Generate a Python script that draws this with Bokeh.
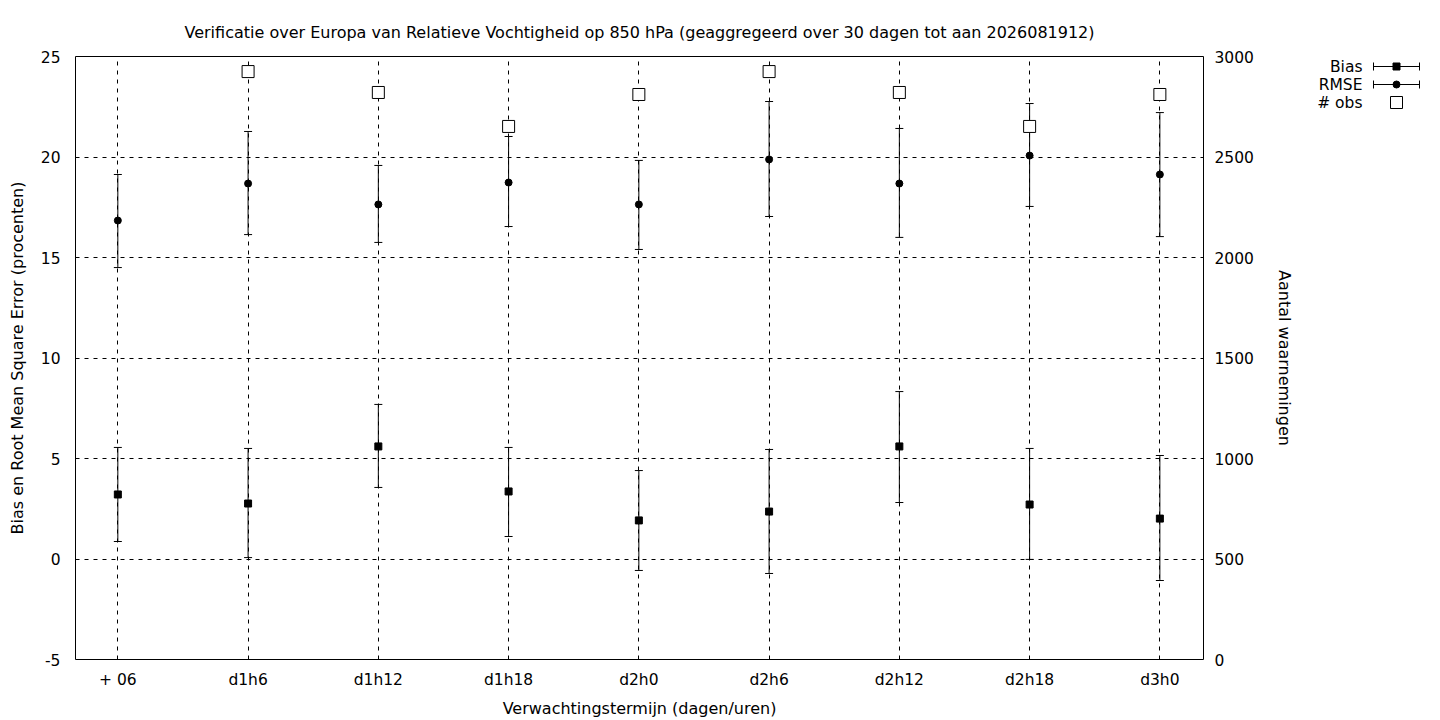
from bokeh.plotting import figure
from bokeh.layouts import row
from bokeh.models import (ColumnDataSource, Range1d, LinearAxis, FixedTicker, Whisker, TeeHead)
from bokeh.core.properties import value
from bokeh.embed import file_html
from bokeh.resources import INLINE
import numpy as np

# ---- data ----
categories = ["+ 06", "d1h6", "d1h12", "d1h18", "d2h0", "d2h6", "d2h12", "d2h18", "d3h0"]
bias = [3.21, 2.76, 5.60, 3.36, 1.92, 2.36, 5.60, 2.71, 2.01]
bias_lo = [0.87, 0.07, 3.56, 1.12, -0.57, -0.72, 2.81, -0.02, -1.07]
bias_hi = [5.55, 5.50, 7.69, 5.55, 4.40, 5.45, 8.33, 5.50, 5.15]
rmse = [16.84, 18.68, 17.64, 18.73, 17.64, 19.88, 18.68, 20.07, 19.13]
rmse_lo = [14.50, 16.14, 15.75, 16.54, 15.40, 17.04, 16.00, 17.54, 16.04]
rmse_hi = [19.13, 21.27, 19.58, 21.02, 19.83, 22.76, 21.42, 22.66, 22.21]
nobs = [np.nan, 2925, 2821, 2652, 2811, 2925, 2821, 2652, 2811]
left_ticks = [-5, 0, 5, 10, 15, 20, 25]
right_ticks = [0, 500, 1000, 1500, 2000, 2500, 3000]
legend_labels = ["Bias", "RMSE", "# obs"]

FONT = "DejaVu Sans"
FS = "15.5px"
FS_BIG = "16px"

xs = list(range(len(categories)))
src_b = ColumnDataSource(dict(x=xs, y=bias, lo=bias_lo, hi=bias_hi))
src_r = ColumnDataSource(dict(x=xs, y=rmse, lo=rmse_lo, hi=rmse_hi))
src_o = ColumnDataSource(dict(x=xs, y=nobs))

p = figure(width=1300, height=720, output_backend="svg", toolbar_location=None,
           x_range=Range1d(-0.325, 8.335), y_range=Range1d(-5, 25),
           min_border_left=75, min_border_right=97, min_border_top=56, min_border_bottom=61)
p.extra_y_ranges = {"obs": Range1d(0, 3000)}

p.title.text = "Verificatie over Europa van Relatieve Vochtigheid op 850 hPa (geaggregeerd over 30 dagen tot aan 2026081912)"
p.title.align = "center"
p.title.text_font = FONT
p.title.text_font_size = FS_BIG
p.title.text_font_style = "normal"
p.title.text_color = "black"
p.title.standoff = 30

p.outline_line_color = "black"
p.outline_line_width = 1
p.background_fill_color = "white"
p.border_fill_color = "white"

# axes
p.xaxis.ticker = FixedTicker(ticks=xs)
p.xaxis.major_label_overrides = {i: c for i, c in enumerate(categories)}
p.xaxis.axis_label = "Verwachtingstermijn (dagen/uren)"
p.yaxis.ticker = FixedTicker(ticks=left_ticks)
p.yaxis.major_label_overrides = {t: str(t) for t in left_ticks}
p.yaxis.axis_label = "Bias en Root Mean Square Error (procenten)"

ax_r = LinearAxis(y_range_name="obs", ticker=FixedTicker(ticks=right_ticks),
                  axis_label="Aantal waarnemingen")
p.add_layout(ax_r, "right")

for ax in [p.xaxis[0], p.yaxis[0], ax_r]:
    ax.axis_line_color = None
    ax.major_tick_line_color = None
    ax.minor_tick_line_color = None
    ax.major_label_text_font = FONT
    ax.major_label_text_font_size = FS
    ax.major_label_text_color = "black"
    ax.axis_label_text_font = FONT
    ax.axis_label_text_font_size = FS_BIG
    ax.axis_label_text_font_style = "normal"
    ax.axis_label_text_color = "black"

p.xaxis.major_label_standoff = 5
p.xaxis.axis_label_standoff = 7
p.yaxis[0].major_label_standoff = 9
p.yaxis[0].axis_label_standoff = 11
ax_r.major_label_standoff = 5
ax_r.axis_label_standoff = 18

# grid
p.xgrid.ticker = FixedTicker(ticks=xs)
p.ygrid.ticker = FixedTicker(ticks=left_ticks)
for g in [p.xgrid[0], p.ygrid[0]]:
    g.grid_line_color = "black"
    g.grid_line_dash = "4 5"
    g.grid_line_width = 1
    g.grid_line_alpha = 1.0

# error bars
for src in [src_b, src_r]:
    w = Whisker(source=src, base="x", lower="lo", upper="hi", dimension="height",
                line_color="black", line_width=1,
                lower_head=TeeHead(size=8, line_color="black", line_width=1),
                upper_head=TeeHead(size=8, line_color="black", line_width=1))
    p.add_layout(w)

p.scatter("x", "y", source=src_b, marker="square", size=7, color="black")
p.scatter("x", "y", source=src_r, marker="circle", size=7, color="black")
p.scatter("x", "y", source=src_o, y_range_name="obs", marker="square", size=12,
          fill_color="white", line_color="black", line_width=1)

# ---- key (gnuplot style: text right-aligned, sample to the right) ----
# frame of this figure spans page pixels x 1300..1440, y 56..659 (same borders as main plot)
leg = figure(width=140, height=720, output_backend="svg", toolbar_location=None,
             x_range=Range1d(1300, 1440), y_range=Range1d(659, 56),
             min_border_left=0, min_border_right=0,
             min_border_top=56, min_border_bottom=61)
leg.axis.visible = False
leg.grid.visible = False
leg.outline_line_color = None
leg.background_fill_color = "white"
leg.border_fill_color = "white"

rows_y = [66, 84, 102]
leg.text(x=[1362] * 3, y=rows_y, text=legend_labels, text_align="right",
         text_baseline="middle", text_font=value(FONT), text_font_size=FS, text_color="black")
# error-bar samples for Bias and RMSE
leg.segment(x0=[1373, 1373], y0=rows_y[:2], x1=[1419, 1419], y1=rows_y[:2],
            line_color="black", line_width=1)
leg.segment(x0=[1373, 1373, 1419, 1419], y0=[62, 80, 62, 80],
            x1=[1373, 1373, 1419, 1419], y1=[70, 88, 70, 88],
            line_color="black", line_width=1)
leg.scatter(x=[1396], y=[rows_y[0]], marker="square", size=7, color="black")
leg.scatter(x=[1396], y=[rows_y[1]], marker="circle", size=7, color="black")
leg.scatter(x=[1396], y=[rows_y[2]], marker="square", size=12, fill_color="white",
            line_color="black", line_width=1)

layout = row(p, leg)
open("out.html", "w").write(file_html(layout, INLINE))
